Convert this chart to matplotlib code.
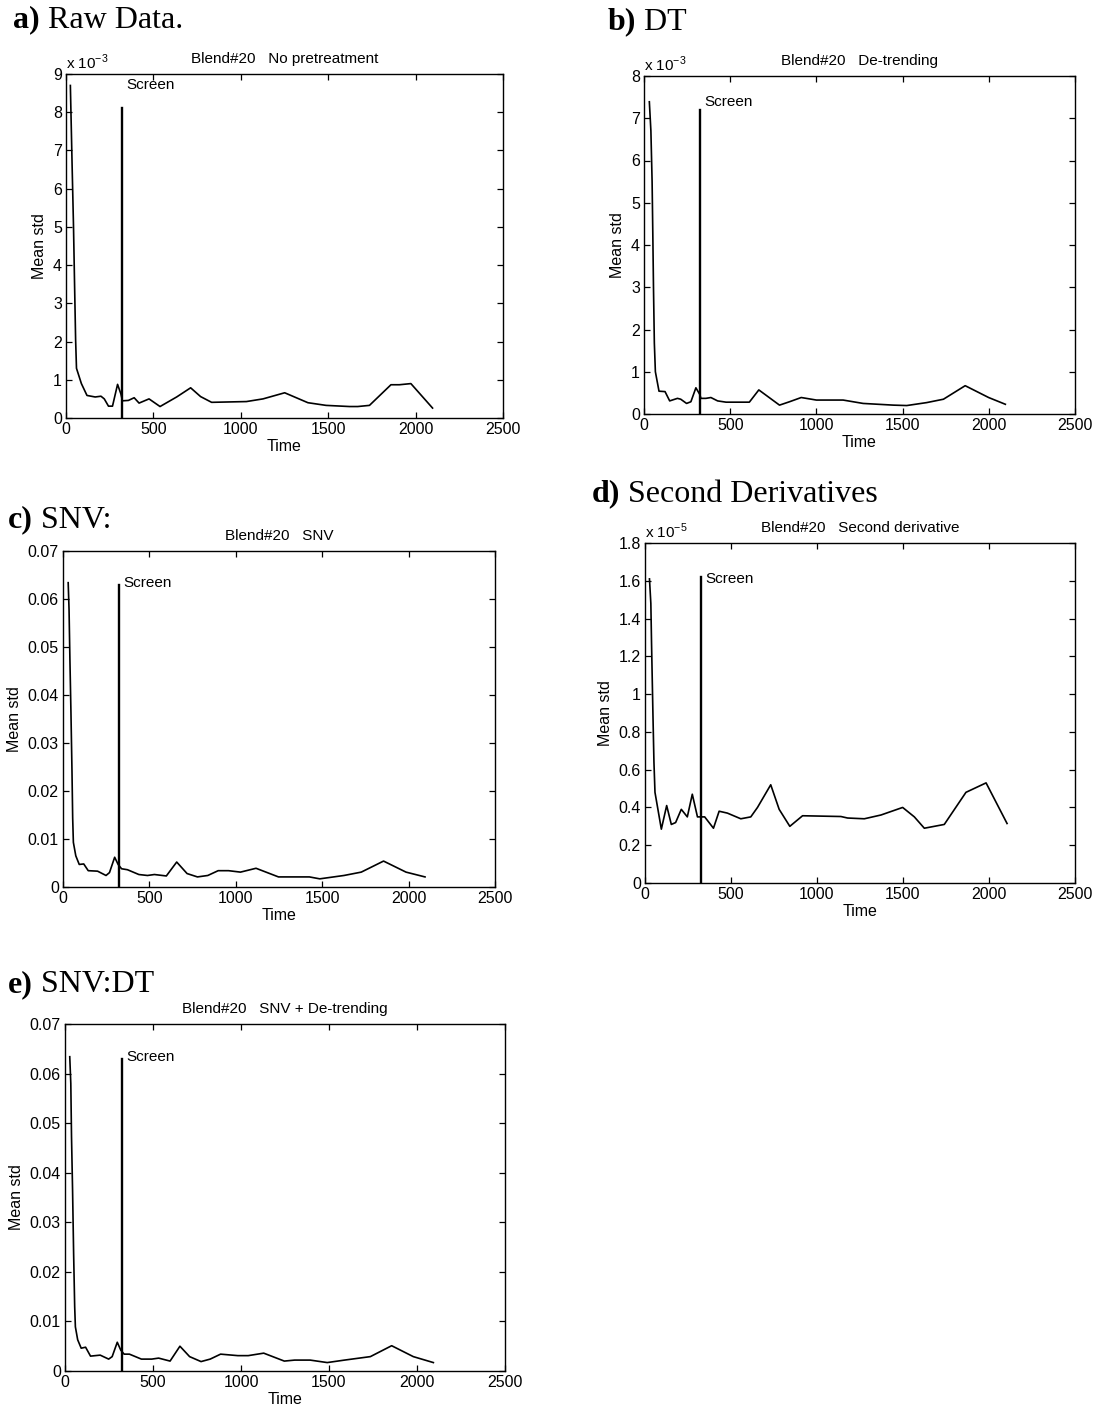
import matplotlib
matplotlib.use("Agg")
import matplotlib.pyplot as plt
import numpy as np

plt.rcParams['font.family'] = ['Liberation Sans', 'DejaVu Sans']

#=======Data (Mean std vs Time, Blend#20)
# a) raw data, units of 1e-3
t_raw = [25, 35, 43, 49, 55, 60, 88, 120, 167, 200, 219, 243, 266, 295, 314, 323,
         357, 390, 418, 475, 538, 633, 713, 770, 833, 1032, 1127, 1251, 1384, 1488,
         1622, 1669, 1736, 1859, 1907, 1973, 2097]
v_raw = [8.7, 6.6, 5.0, 3.5, 2.05, 1.3, 0.9, 0.59, 0.55, 0.57, 0.50, 0.31, 0.31, 0.88, 0.63, 0.45,
         0.46, 0.53, 0.39, 0.50, 0.30, 0.55, 0.79, 0.56, 0.41, 0.43, 0.50, 0.66, 0.40, 0.33,
         0.30, 0.30, 0.33, 0.87, 0.87, 0.90, 0.26]

# b) de-trending, units of 1e-3
t_dt = [31, 40, 47, 51, 55, 60, 66, 87, 122, 149, 194, 213, 247, 272, 301, 324, 330, 359,
        388, 427, 476, 611, 666, 786, 844, 912, 1000, 1155, 1271, 1446, 1524, 1640, 1737,
        1863, 1999, 2096]
v_dt = [7.39, 6.7, 5.5, 4.3, 3.0, 1.68, 1.0, 0.54, 0.53, 0.31, 0.37, 0.35, 0.25, 0.29, 0.62,
        0.46, 0.37, 0.37, 0.39, 0.31, 0.28, 0.28, 0.57, 0.21, 0.29, 0.39, 0.33, 0.33, 0.25,
        0.21, 0.20, 0.27, 0.35, 0.67, 0.39, 0.23]

# c) SNV
t_snv = [30, 35, 40, 46, 52, 56, 60, 74, 94, 120, 146, 200, 249, 269, 299, 319, 339, 373,
         439, 489, 529, 598, 658, 718, 778, 838, 898, 958, 1027, 1117, 1247, 1426, 1486,
         1626, 1726, 1855, 1985, 2095]
v_snv = [0.0634, 0.0578, 0.0474, 0.0364, 0.0241, 0.0144, 0.0093, 0.0065, 0.0047, 0.0048,
         0.0034, 0.0033, 0.0024, 0.0030, 0.0062, 0.0047, 0.0038, 0.0036, 0.0026, 0.0024,
         0.0026, 0.0023, 0.0052, 0.0028, 0.0021, 0.0024, 0.0034, 0.0034, 0.0031, 0.0039,
         0.0021, 0.0021, 0.0017, 0.0024, 0.0031, 0.0054, 0.0031, 0.0021]

# d) second derivative, units of 1e-5
t_d2 = [26, 34, 38, 46, 52, 58, 95, 126, 153, 178, 211, 246, 275, 305, 328, 347, 398, 431,
        479, 557, 615, 654, 731, 780, 842, 916, 1139, 1178, 1275, 1372, 1498, 1566, 1624,
        1740, 1866, 1983, 2105]
v_d2 = [1.61, 1.48, 1.27, 0.90, 0.64, 0.48, 0.285, 0.41, 0.31, 0.32, 0.39, 0.35, 0.47, 0.35,
        0.35, 0.35, 0.29, 0.38, 0.37, 0.34, 0.35, 0.40, 0.52, 0.39, 0.30, 0.356, 0.352,
        0.344, 0.34, 0.36, 0.40, 0.35, 0.29, 0.31, 0.48, 0.53, 0.315]

# e) SNV + de-trending
t_snvdt = [27, 33, 37, 43, 49, 55, 59, 72, 92, 117, 145, 200, 248, 268, 297, 317, 336, 366,
           434, 493, 532, 597, 653, 708, 773, 825, 884, 982, 1041, 1129, 1246, 1305, 1393,
           1490, 1588, 1735, 1856, 1979, 2093]
v_snvdt = [0.0634, 0.058, 0.0473, 0.0365, 0.0237, 0.0130, 0.0089, 0.0063, 0.0046, 0.0048,
           0.0030, 0.0032, 0.0024, 0.0029, 0.0058, 0.0042, 0.0034, 0.0034, 0.0024, 0.0024,
           0.0026, 0.0020, 0.0050, 0.0029, 0.0019, 0.0024, 0.0034, 0.0031, 0.0031, 0.0036,
           0.0020, 0.0022, 0.0022, 0.0017, 0.0022, 0.0029, 0.0051, 0.0029, 0.0017]

screen_t = [320, 325, 325, 328, 322]
screen_top = [8.1, 7.2, 0.063, 1.62, 0.063]

titles = ['Blend#20   No pretreatment', 'Blend#20   De-trending', 'Blend#20   SNV',
          'Blend#20   Second derivative', 'Blend#20   SNV + De-trending']
panel_bold = ['a)', 'b)', 'c)', 'd)', 'e)']
panel_rest = ['Raw Data.', 'DT', 'SNV:', 'Second Derivatives', 'SNV:DT']
ylims = [9, 8, 0.07, 1.8, 0.07]
yticks = [np.arange(0, 10, 1), np.arange(0, 9, 1), np.arange(0, 0.071, 0.01),
          np.arange(0, 1.81, 0.2), np.arange(0, 0.071, 0.01)]
ytick_labels = [[str(i) for i in range(10)], [str(i) for i in range(9)],
                ['0'] + ['%.2f' % (i / 100) for i in range(1, 8)],
                ['0', '0.2', '0.4', '0.6', '0.8', '1', '1.2', '1.4', '1.6', '1.8'],
                ['0'] + ['%.2f' % (i / 100) for i in range(1, 8)]]
multipliers = ['-3', '-3', None, '-5', None]
series = [(t_raw, v_raw), (t_dt, v_dt), (t_snv, v_snv), (t_d2, v_d2), (t_snvdt, v_snvdt)]

#==============Plotting
W, H = 1095, 1412
fig = plt.figure(figsize=(W / 100, H / 100), dpi=100)

# axes boxes in pixels: left, top, right, bottom
boxes = [(66, 74, 503, 418), (644, 76, 1075, 414), (63, 551, 495, 887),
         (645, 543, 1075, 883), (65, 1024, 505, 1371)]
# panel label positions (left, vertical centre) in pixels
label_pos = [(13, 20), (608, 22), (8, 520), (592, 494), (8, 985)]

for i in range(5):
    l, t, r, b = boxes[i]
    ax = fig.add_axes([l / W, 1 - b / H, (r - l) / W, (b - t) / H])
    x, y = series[i]
    ax.plot(x, y, color='black', lw=1.2)
    ax.plot([screen_t[i], screen_t[i]], [0, screen_top[i]], color='black', lw=1.7)
    # label sits level with the highest point of the curve
    ax.text(screen_t[i] + 25, max(y), 'Screen', fontsize=11,
            va='center', ha='left')
    ax.set_xlim(0, 2500)
    ax.set_ylim(0, ylims[i])
    ax.set_xticks([0, 500, 1000, 1500, 2000, 2500])
    ax.set_yticks(yticks[i])
    ax.set_yticklabels(ytick_labels[i])
    ax.tick_params(direction='in', top=True, right=True, length=4, width=0.9,
                   labelsize=11.5, pad=3)
    for s in ax.spines.values():
        s.set_linewidth(1.0)
    ax.set_xlabel('Time', fontsize=11.5, labelpad=1)
    ax.set_ylabel('Mean std', fontsize=11.5, labelpad=4)
    ax.set_title(titles[i], fontsize=11, pad=8)
    if multipliers[i]:
        ax.text(0.0, 1.005, r'x 10$^{\mathregular{%s}}$' % multipliers[i], transform=ax.transAxes,
                fontsize=11, ha='left', va='bottom')

    px, py = label_pos[i]
    tb = fig.text(px / W, 1 - py / H, panel_bold[i], fontsize=23, fontweight='bold',
                  family='Liberation Serif', va='center', ha='left')
    ax.annotate(' ' + panel_rest[i], xy=(1, 0), xycoords=tb, va='bottom', ha='left',
                fontsize=23, family='Liberation Serif', annotation_clip=False)

plt.savefig('out.png', dpi=100)
